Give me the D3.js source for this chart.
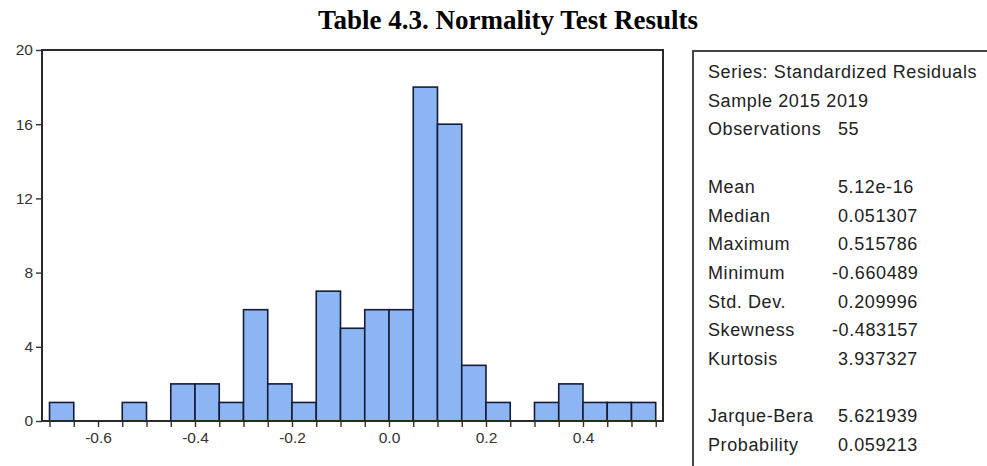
<!DOCTYPE html>
<html>
<head>
<meta charset="utf-8">
<script src="https://cdn.jsdelivr.net/npm/d3@7"></script>
<style>
  html, body { margin: 0; padding: 0; background: #fff; }
  svg { display: block; }
</style>
</head>
<body>
<div id="chart"></div>
<script>
// histogram bins (lower edge of each 0.05 bin) and counts
const binLower = [-0.70, -0.65, -0.60, -0.55, -0.50, -0.45, -0.40, -0.35, -0.30, -0.25,
                  -0.20, -0.15, -0.10, -0.05, 0.00, 0.05, 0.10, 0.15, 0.20, 0.25,
                  0.30, 0.35, 0.40, 0.45, 0.50];
const binCounts = [1, 0, 0, 1, 0, 2, 2, 1, 6, 2,
                   1, 7, 5, 6, 6, 18, 16, 3, 1, 0,
                   1, 2, 1, 1, 1];
const binWidth = 0.05;

const yTicks = [0, 4, 8, 12, 16, 20];
const xLabelTicks = [-0.6, -0.4, -0.2, 0.0, 0.2, 0.4];

const headerLines = ['Series: Standardized Residuals', 'Sample 2015 2019'];
const statLabels = ['Observations', '', 'Mean', 'Median', 'Maximum', 'Minimum', 'Std. Dev.',
                    'Skewness', 'Kurtosis', '', 'Jarque-Bera', 'Probability'];
const statValues = ['55', '', '5.12e-16', '0.051307', '0.515786', '-0.660489', '0.209996',
                    '-0.483157', '3.937327', '', '5.621939', '0.059213'];

const titleText = 'Table 4.3. Normality Test Results';

const W = 987, H = 466;
const frame = { left: 42, right: 663, top: 50, bottom: 421 };

const svg = d3.select('#chart').append('svg')
  .attr('width', W)
  .attr('height', H);

svg.append('text')
  .attr('x', 508)
  .attr('y', 29)
  .attr('text-anchor', 'middle')
  .attr('font-family', '"Liberation Serif", "Times New Roman", serif')
  .attr('font-weight', 'bold')
  .attr('font-size', 27)
  .attr('fill', '#000')
  .text(titleText);

const x = d3.scaleLinear()
  .domain([-0.7155, 0.565])
  .range([frame.left, frame.right]);

const y = d3.scaleLinear()
  .domain([0, 20])
  .range([frame.bottom, frame.top]);

// bars
svg.append('g')
  .selectAll('rect')
  .data(binLower.map((b, i) => ({ lo: b, n: binCounts[i] })).filter(d => d.n > 0))
  .enter()
  .append('rect')
  .attr('x', d => x(d.lo))
  .attr('y', d => y(d.n))
  .attr('width', d => x(d.lo + binWidth) - x(d.lo))
  .attr('height', d => y(0) - y(d.n))
  .attr('fill', '#8db5f3')
  .attr('stroke', '#141c38')
  .attr('stroke-width', 1.6);

// axes - ticks on every bin edge, labels every 0.2 (plain hyphen minus)
const allEdges = binLower.concat([binLower[binLower.length - 1] + binWidth]);
const xAxis = d3.axisBottom(x)
  .tickValues(allEdges)
  .tickSize(6)
  .tickPadding(5)
  .tickFormat(v => {
    const hit = xLabelTicks.find(t => Math.abs(t - v) < 1e-6);
    return hit === undefined ? '' : hit.toFixed(1);
  });

const gx = svg.append('g')
  .attr('transform', `translate(0,${frame.bottom})`)
  .call(xAxis);
gx.select('.domain').remove();

const gy = svg.append('g')
  .attr('transform', `translate(${frame.left},0)`)
  .call(d3.axisLeft(y).tickValues(yTicks).tickSize(6).tickPadding(3));
gy.select('.domain').remove();

[gx, gy].forEach(g => {
  g.selectAll('line').attr('stroke', '#333').attr('stroke-width', 1.4);
  g.selectAll('text')
    .attr('font-family', '"Liberation Sans", Arial, sans-serif')
    .attr('font-size', 15.5)
    .attr('fill', '#333');
});

// frame
svg.append('rect')
  .attr('x', frame.left)
  .attr('y', frame.top)
  .attr('width', frame.right - frame.left)
  .attr('height', frame.bottom - frame.top)
  .attr('fill', 'none')
  .attr('stroke', '#2a2a2a')
  .attr('stroke-width', 2);

// stats panel
svg.append('rect')
  .attr('x', 693)
  .attr('y', 51)
  .attr('width', 320)
  .attr('height', 440)
  .attr('fill', 'none')
  .attr('stroke', '#333')
  .attr('stroke-width', 1.8);

const lineH = 28.7, firstBase = 78;
const stats = svg.append('g')
  .attr('font-family', '"Liberation Sans", Arial, sans-serif')
  .attr('font-size', 18)
  .attr('fill', '#222')
  .style('letter-spacing', '0.6px');

headerLines.forEach((t, i) => {
  stats.append('text')
    .attr('x', 708)
    .attr('y', firstBase + i * lineH)
    .text(t);
});

statLabels.forEach((t, i) => {
  const yy = firstBase + (i + 2) * lineH;
  if (t) {
    stats.append('text').attr('x', 708).attr('y', yy).text(t);
  }
  const v = statValues[i];
  if (v) {
    stats.append('text')
      .attr('x', v.startsWith('-') ? 832 : 838)
      .attr('y', yy)
      .text(v);
  }
});
</script>
</body>
</html>
